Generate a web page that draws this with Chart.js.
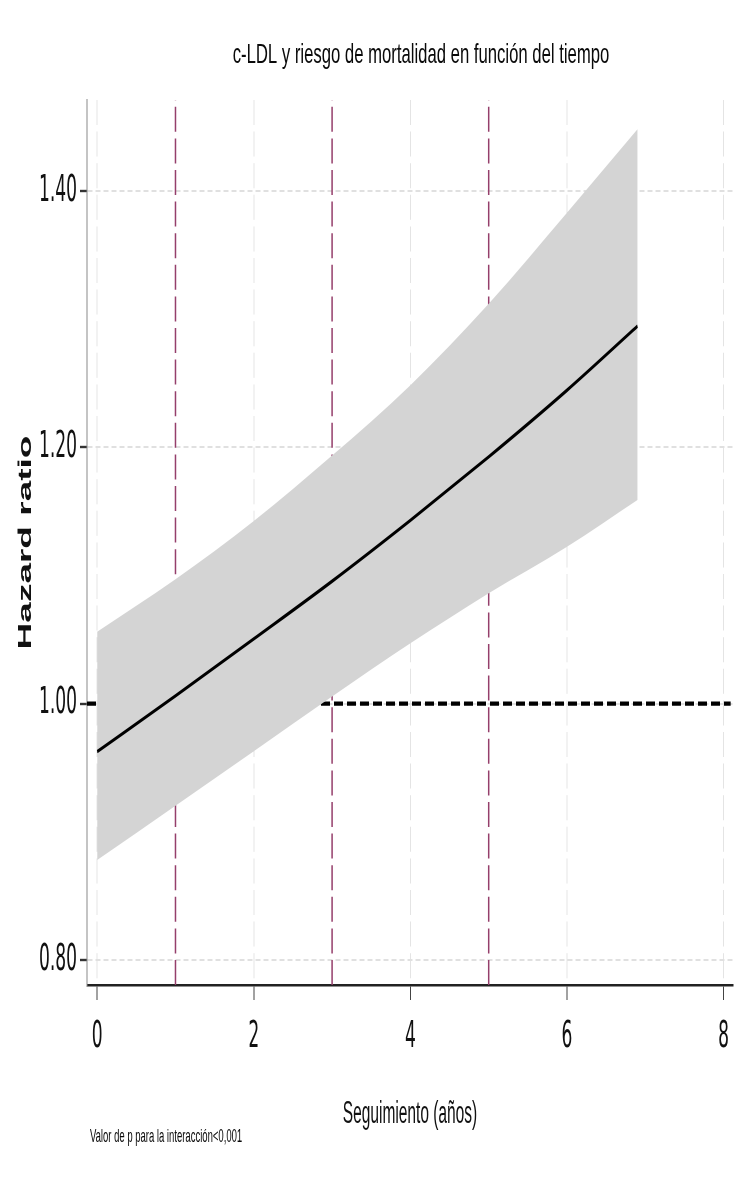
<!DOCTYPE html>
<html>
<head>
<meta charset="utf-8">
<script src="https://cdn.jsdelivr.net/npm/chart.js@4/dist/chart.umd.min.js"></script>
<style>
  html, body { margin: 0; padding: 0; background: #fff; width: 750px; height: 1200px; }
  #wrap { width: 750px; height: 600px; transform: scaleY(2); transform-origin: 0 0; }
</style>
</head>
<body>
<div id="wrap"><canvas id="c" width="750" height="600"></canvas></div>
<script>
// ---- data ----
const timePoints  = [0, 1, 2, 3, 4, 5, 6, 6.9];
const hazardRatio = [0.9625, 1.0060, 1.0505, 1.0955, 1.1430, 1.1925, 1.2445, 1.2945];
const upperCI     = [1.0561, 1.0970, 1.1425, 1.1935, 1.2485, 1.3120, 1.3830, 1.4481];
const lowerCI     = [0.8780, 0.9203, 0.9629, 1.0055, 1.0470, 1.0861, 1.1224, 1.1589];
const refYears    = [1, 3, 5];
const nullValue   = 1.0;
const nullSpan    = [-0.13, 8.09];
const xTicks      = [0, 2, 4, 6, 8];
const yTicks      = [0.80, 1.00, 1.20, 1.40];
const xRange      = [-0.13, 8.12];
const yRange      = [0.7804, 1.471];
const titleText   = 'c-LDL y riesgo de mortalidad en función del tiempo';
const xTitle      = 'Seguimiento (años)';
const yTitle      = 'Hazard ratio';
const noteText    = 'Valor de p para la interacción<0,001';

const pts = arr => timePoints.map((t, i) => ({ x: t, y: arr[i] }));
const NARROW = "'Liberation Sans Narrow', 'DejaVu Sans Condensed', sans-serif";
const SANS = "'Liberation Sans', Arial, sans-serif";

const datasets = [
  { data: pts(hazardRatio), borderColor: '#000', borderWidth: 1.8, fill: false,
    pointRadius: 0, cubicInterpolationMode: 'monotone' },
  { data: pts(upperCI), borderColor: 'rgba(0,0,0,0)', borderWidth: 0, backgroundColor: '#d4d4d4',
    fill: '+1', pointRadius: 0, cubicInterpolationMode: 'monotone' },
  { data: pts(lowerCI), borderColor: 'rgba(0,0,0,0)', borderWidth: 0, fill: false,
    pointRadius: 0, cubicInterpolationMode: 'monotone' },
  { data: nullSpan.map(x => ({ x, y: nullValue })), borderColor: '#000', borderWidth: 2.2,
    borderDash: [9, 4], fill: false, pointRadius: 0 },
  ...refYears.map(v => ({
    data: [{ x: v, y: yRange[0] }, { x: v, y: yRange[1] }],
    borderColor: '#953f6b', borderWidth: 1.5, borderDash: [12.5, 3.3], fill: false, pointRadius: 0
  }))
];

const textPlugin = {
  id: 'texts',
  afterDraw(chart) {
    const ctx = chart.ctx;
    ctx.save();
    ctx.fillStyle = '#0a0a0a';
    ctx.textBaseline = 'alphabetic';
    ctx.save();
    ctx.translate(421, 31.7);
    ctx.scale(1, 0.81);
    ctx.font = "16.7px " + SANS;
    ctx.textAlign = 'center';
    ctx.fillText(titleText, 0, 0);
    ctx.restore();
    ctx.font = "9.5px " + SANS;
    ctx.textAlign = 'left';
    ctx.fillText(noteText, 90, 571);
    ctx.restore();
  }
};

new Chart(document.getElementById('c'), {
  type: 'line',
  data: { datasets },
  plugins: [textPlugin],
  options: {
    responsive: false,
    animation: false,
    devicePixelRatio: 2,
    layout: { padding: { top: 50, right: 17, left: 0, bottom: 0 } },
    plugins: {
      legend: { display: false },
      tooltip: { enabled: false },
      filler: { drawTime: 'beforeDatasetDraw' }
    },
    scales: {
      x: {
        type: 'linear', min: xRange[0], max: xRange[1],
        afterBuildTicks: s => { s.ticks = xTicks.map(v => ({ value: v })); },
        afterFit: s => { s.height = 107.5; },
        ticks: { color: '#111', font: { family: NARROW, size: 19 }, padding: 7,
                 callback: v => String(v), maxRotation: 0 },
        grid: { color: '#e4e4e4', lineWidth: 1, tickLength: 7.5, tickColor: '#444', tickWidth: 1 },
        border: { display: true, color: '#222', width: 1.2, dash: [12.5, 3.3] },
        title: { display: true, text: xTitle, color: '#111',
                 font: { family: SANS, size: 15.5 }, padding: { top: 0, bottom: 33.5 } }
      },
      y: {
        type: 'linear', min: yRange[0], max: yRange[1],
        afterBuildTicks: s => { s.ticks = yTicks.map(v => ({ value: v })); },
        afterFit: s => { s.width = 87; },
        ticks: { color: '#111', font: { family: NARROW, size: 19 }, padding: 3,
                 callback: v => Number(v).toFixed(2) },
        grid: { color: '#e0e0e0', lineWidth: 1, tickLength: 7, tickColor: '#333', tickWidth: 1.2 },
        border: { display: true, color: '#888', width: 1, dash: [5, 3] },
        title: { display: true, text: yTitle, color: '#111',
                 font: { family: SANS, size: 18.5, weight: 'bold' }, padding: { top: 15, bottom: 0 } }
      }
    }
  }
});
</script>
</body>
</html>
